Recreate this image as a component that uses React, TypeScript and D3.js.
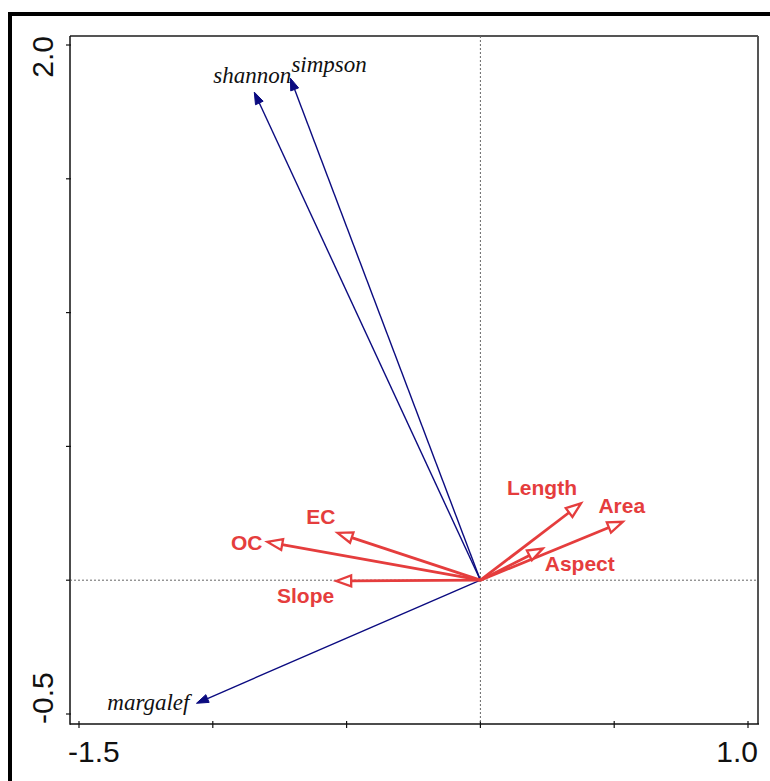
import React from 'react';
import * as d3 from 'd3';

// ---- data ----
const speciesNames = ['shannon', 'simpson', 'margalef'];
const speciesX = [-0.845, -0.71, -1.061];
const speciesY = [1.824, 1.876, -0.46];

const envNames = ['OC', 'EC', 'Slope', 'Length', 'Area', 'Aspect'];
const envX = [-0.796, -0.534, -0.539, 0.376, 0.532, 0.233];
const envY = [0.143, 0.177, -0.003, 0.287, 0.218, 0.118];

const xTickValues = [-1.5, -1.0, -0.5, 0, 0.5, 1.0];
const yTickValues = [-0.5, 0, 0.5, 1.0, 1.5, 2.0];
const xTickLabels = ['-1.5', '1.0'];
const yTickLabels = ['-0.5', '2.0'];

// ---- layout (pixels) ----
const W = 770;
const H = 781;
const panel = { left: 70, top: 36, right: 758, bottom: 724 };

// label placement relative to arrow tip
const speciesLabelLayout: Record<string, { dx: number; dy: number; anchor: string }> = {
  shannon: { dx: -2, dy: -9, anchor: 'middle' },
  simpson: { dx: 1, dy: -6, anchor: 'start' },
  margalef: { dx: -7, dy: 7, anchor: 'end' },
};
const envLabelLayout: Record<string, { dx: number; dy: number; anchor: string }> = {
  OC: { dx: -5, dy: 8, anchor: 'end' },
  EC: { dx: -2, dy: -9, anchor: 'end' },
  Slope: { dx: -2, dy: 22, anchor: 'end' },
  Length: { dx: -4, dy: -8, anchor: 'end' },
  Area: { dx: -1, dy: -9, anchor: 'middle' },
  Aspect: { dx: 2, dy: 22, anchor: 'start' },
};

const RED = '#e53d3d';
const NAVY = '#0b0b80';

function arrowGeom(ox: number, oy: number, tx: number, ty: number, len: number, half: number) {
  const dx = tx - ox;
  const dy = ty - oy;
  const d = Math.sqrt(dx * dx + dy * dy);
  const ux = dx / d;
  const uy = dy / d;
  const bx = tx - ux * len;
  const by = ty - uy * len;
  const px = -uy;
  const py = ux;
  const head = `M${tx},${ty}L${bx + px * half},${by + py * half}L${bx - px * half},${by - py * half}Z`;
  return { bx, by, head };
}

export default function App() {
  const x = d3.scaleLinear().domain([-1.5, 1.0]).range([79, 748]);
  const y = d3.scaleLinear().domain([-0.5, 2.0]).range([714, 45]);
  const ox = x(0);
  const oy = y(0);

  return (
    <svg
      width={W}
      height={H}
      style={{ position: 'absolute', left: 0, top: 0, background: '#fff' }}
      fontFamily="'Liberation Sans', Arial, sans-serif"
    >
      <rect x={0} y={0} width={W} height={H} fill="#fff" />
      {/* outer thick frame */}
      <line x1={8} y1={14} x2={W} y2={14} stroke="#000" strokeWidth={4} />
      <line x1={10} y1={12} x2={10} y2={H} stroke="#000" strokeWidth={4} />

      {/* panel */}
      <line x1={panel.left} y1={panel.top} x2={panel.right} y2={panel.top} stroke="#555" strokeWidth={2} />
      <line x1={panel.right} y1={panel.top} x2={panel.right} y2={panel.bottom} stroke="#555" strokeWidth={2} />
      <line x1={panel.left} y1={panel.top} x2={panel.left} y2={panel.bottom + 0.75} stroke="#111" strokeWidth={1.5} />
      <line x1={panel.left} y1={panel.bottom} x2={panel.right + 1} y2={panel.bottom} stroke="#111" strokeWidth={1.5} />

      {/* ticks */}
      {xTickValues.map((v) => (
        <line key={'xt' + v} x1={x(v)} x2={x(v)} y1={panel.bottom - 3} y2={panel.bottom + 4} stroke="#111" strokeWidth={1.2} />
      ))}
      {yTickValues.map((v) => (
        <line key={'yt' + v} x1={panel.left - 4} x2={panel.left + 1} y1={y(v)} y2={y(v)} stroke="#111" strokeWidth={1.2} />
      ))}

      {/* tick labels */}
      <text x={panel.left - 2} y={762} fontSize={30} textAnchor="start" fill="#111">{xTickLabels[0]}</text>
      <text x={panel.right} y={762} fontSize={30} textAnchor="end" fill="#111">{xTickLabels[1]}</text>
      <text transform={`translate(53,${panel.bottom}) rotate(-90)`} fontSize={30} textAnchor="start" fill="#111">{yTickLabels[0]}</text>
      <text transform={`translate(53,${panel.top}) rotate(-90)`} fontSize={30} textAnchor="end" fill="#111">{yTickLabels[1]}</text>

      {/* zero reference lines */}
      <line x1={ox} x2={ox} y1={panel.top} y2={panel.bottom} stroke="#666" strokeWidth={1} strokeDasharray="2,2" />
      <line x1={panel.left} x2={panel.right} y1={oy} y2={oy} stroke="#666" strokeWidth={1} strokeDasharray="2,2" />

      {/* species arrows */}
      {speciesNames.map((n, i) => {
        const tx = x(speciesX[i]);
        const ty = y(speciesY[i]);
        const g = arrowGeom(ox, oy, tx, ty, 12, 4.2);
        const L = speciesLabelLayout[n];
        return (
          <g key={n}>
            <line x1={ox} y1={oy} x2={g.bx} y2={g.by} stroke={NAVY} strokeWidth={1.4} />
            <path d={g.head} fill={NAVY} stroke={NAVY} strokeWidth={1} />
            <text
              x={tx + L.dx}
              y={ty + L.dy}
              textAnchor={L.anchor}
              fontFamily="'Liberation Serif', 'Times New Roman', serif"
              fontStyle="italic"
              fontSize={23}
              fill="#111"
            >
              {n}
            </text>
          </g>
        );
      })}

      {/* environmental arrows */}
      {envNames.map((n, i) => {
        const tx = x(envX[i]);
        const ty = y(envY[i]);
        const g = arrowGeom(ox, oy, tx, ty, 15, 5.5);
        const L = envLabelLayout[n];
        return (
          <g key={n}>
            <line x1={ox} y1={oy} x2={g.bx} y2={g.by} stroke={RED} strokeWidth={2.8} />
            <path d={g.head} fill="#fff" stroke={RED} strokeWidth={2.3} strokeLinejoin="miter" />
            <text
              x={tx + L.dx}
              y={ty + L.dy}
              textAnchor={L.anchor}
              fontWeight="bold"
              fontSize={21}
              fill={RED}
            >
              {n}
            </text>
          </g>
        );
      })}
    </svg>
  );
}
